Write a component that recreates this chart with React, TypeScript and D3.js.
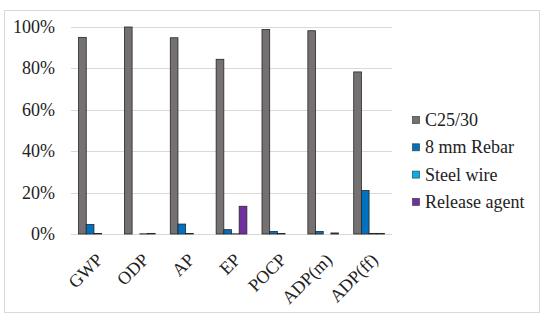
import React, { useEffect, useRef } from 'react';
import * as d3 from 'd3';

// impact categories on the x axis
const categories = ['GWP', 'ODP', 'AP', 'EP', 'POCP', 'ADP(m)', 'ADP(ff)'];

// share of each material (%)
const concrete = [95, 100, 94.8, 84.4, 98.8, 98.2, 78.3];
const rebar = [4.6, 0, 4.8, 2.1, 1.2, 1.2, 21];
const steelWire = [0.2, 0.1, 0.2, 0.1, 0.2, 0, 0.3];
const releaseAgent = [0, 0.3, 0, 13.4, 0, 0.5, 0.3];

const seriesNames = ['C25/30', '8 mm Rebar', 'Steel wire', 'Release agent'];
const colors = ['#767171', '#0070c0', '#00b0f0', '#7030a0'];

const yTicks = [0, 20, 40, 60, 80, 100];

const App = () => {
  const svgRef = useRef<SVGSVGElement>(null);

  useEffect(() => {
    const series = [concrete, rebar, steelWire, releaseAgent];
    const svg = d3.select(svgRef.current);
    svg.selectAll('*').remove();

    // outer frame
    svg.append('rect')
      .attr('x', 4.5).attr('y', 10.5)
      .attr('width', 535).attr('height', 302)
      .attr('fill', 'white')
      .attr('stroke', '#d9d9d9');

    const left = 71, right = 392, top = 27, bottom = 234;

    const x = d3.scaleBand()
      .domain(categories)
      .range([left, right])
      .paddingInner(0.33)
      .paddingOuter(0.165);

    const inner = d3.scaleBand()
      .domain(seriesNames)
      .range([0, x.bandwidth()]);

    const y = d3.scaleLinear().domain([0, 100]).range([bottom, top]);

    // grid lines
    svg.append('g')
      .selectAll('line')
      .data(yTicks)
      .enter()
      .append('line')
      .attr('x1', left).attr('x2', right)
      .attr('y1', d => Math.round(y(d)) + 0.5)
      .attr('y2', d => Math.round(y(d)) + 0.5)
      .attr('stroke', '#d9d9d9')
      .attr('stroke-width', 1);

    // y labels
    svg.append('g')
      .selectAll('text')
      .data(yTicks)
      .enter()
      .append('text')
      .attr('x', 55)
      .attr('y', d => y(d) + 6)
      .attr('text-anchor', 'end')
      .style('font-family', '"Times New Roman", "Liberation Serif", serif')
      .style('font-size', '18px')
      .style('fill', '#222')
      .text(d => d + '%');

    // bars
    series.forEach((vals, si) => {
      svg.append('g')
        .selectAll('rect')
        .data(vals)
        .enter()
        .append('rect')
        .attr('x', (d, i) => (x(categories[i]) as number) + (inner(seriesNames[si]) as number))
        .attr('y', d => y(d))
        .attr('width', inner.bandwidth())
        .attr('height', d => bottom - y(d))
        .attr('fill', colors[si])
        .attr('stroke', '#262626')
        .attr('stroke-width', d => (d > 0 ? 0.8 : 0));
    });

    // x labels, rotated
    svg.append('g')
      .selectAll('text')
      .data(categories)
      .enter()
      .append('text')
      .attr('transform', d => `translate(${(x(d) as number) + x.bandwidth() / 2 + 10},${bottom + 27}) rotate(-45)`)
      .attr('text-anchor', 'end')
      .style('font-family', '"Times New Roman", "Liberation Serif", serif')
      .style('font-size', '18px')
      .style('fill', '#222')
      .text(d => d);

    // legend
    const legend = svg.append('g')
      .selectAll('g')
      .data(seriesNames)
      .enter()
      .append('g')
      .attr('transform', (d, i) => `translate(412,${120 + i * 27.3})`);

    legend.append('rect')
      .attr('x', 0.5).attr('y', -3.5)
      .attr('width', 7).attr('height', 7)
      .attr('fill', (d, i) => colors[i])
      .attr('stroke', '#404040')
      .attr('stroke-width', 0.7);

    legend.append('text')
      .attr('x', 13)
      .attr('y', 6)
      .style('font-family', '"Times New Roman", "Liberation Serif", serif')
      .style('font-size', '18px')
      .style('fill', '#222')
      .text(d => d);
  }, []);

  return (
    <svg
      ref={svgRef}
      width={550}
      height={323}
      style={{ position: 'absolute', left: 0, top: 0, background: 'white' }}
    />
  );
};

export default App;
